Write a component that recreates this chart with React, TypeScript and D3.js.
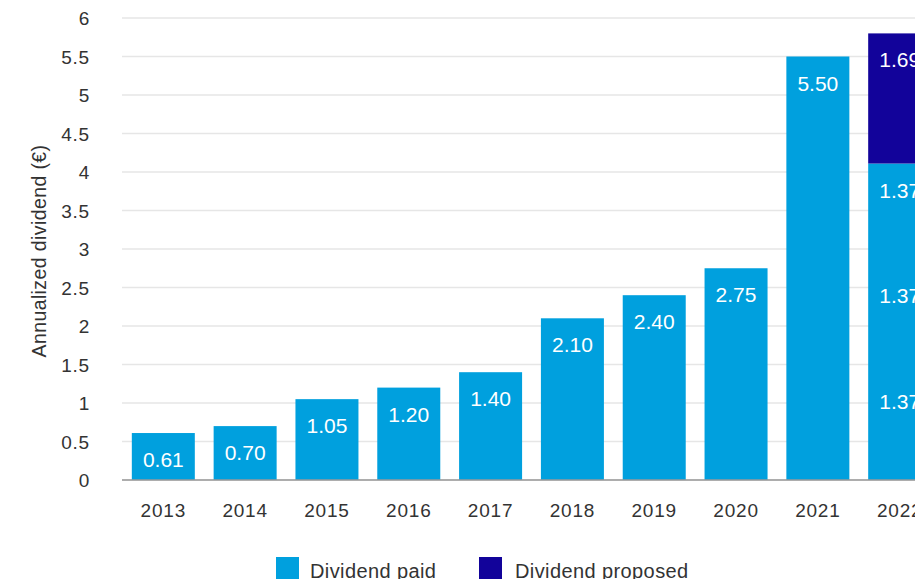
import React, { useEffect } from 'react';
import * as d3 from 'd3';

// data
const years = ['2013', '2014', '2015', '2016', '2017', '2018', '2019', '2020', '2021', '2022'];
// paid dividend, split into the pieces shown in the bar (2022 = three interim payments)
const paidParts: number[][] = [
  [0.61], [0.70], [1.05], [1.20], [1.40], [2.10], [2.40], [2.75], [5.50], [1.37, 1.37, 1.37],
];
const proposed = [0, 0, 0, 0, 0, 0, 0, 0, 0, 1.69];
const yTicks = [0, 0.5, 1, 1.5, 2, 2.5, 3, 3.5, 4, 4.5, 5, 5.5, 6];

const PAID = '#00a0de';
const PROPOSED = '#12039a';
const FONT = '"Liberation Sans", Arial, sans-serif';

const W = 915;
const H = 579;

export default function App() {
  useEffect(() => {
    document.body.style.margin = '0';
  }, []);

  const x = d3.scaleBand<string>()
    .domain(years)
    .range([122, 941])
    .paddingInner(0.23)
    .paddingOuter(0.12);

  const y = d3.scaleLinear().domain([0, 6]).range([480, 18]);

  // label pieces: each paid part and the proposed part
  const labels: { year: string; top: number; v: number }[] = [];
  years.forEach((yr, i) => {
    let base = 0;
    paidParts[i].forEach((v) => {
      base += v;
      labels.push({ year: yr, top: base, v });
    });
    if (proposed[i] > 0) labels.push({ year: yr, top: base + proposed[i], v: proposed[i] });
  });

  return (
    <svg width={W} height={H} style={{ display: 'block' }} fontFamily={FONT}>
      <rect width={W} height={H} fill="#fff" />
      {/* gridlines */}
      {yTicks.map((t) => (
        <line key={'g' + t} x1={122} x2={W} y1={y(t)} y2={y(t)} stroke="#e6e6e6" strokeWidth={1.5} />
      ))}
      {/* y tick labels */}
      {yTicks.map((t) => (
        <text key={'t' + t} x={90} y={y(t) + 7} textAnchor="end" fontSize={19} letterSpacing={0.8} fill="#333">
          {String(t)}
        </text>
      ))}
      <text
        transform={`translate(46, 251) rotate(-90)`}
        textAnchor="middle"
        fontSize={19.5}
        letterSpacing={0.4}
        fill="#333"
      >
        Annualized dividend (€)
      </text>

      {/* bars */}
      {years.map((yr, i) => {
        const paid = d3.sum(paidParts[i]);
        return (
          <g key={'b' + yr}>
            <rect x={x(yr)!} y={y(paid)} width={x.bandwidth()} height={y(0) - y(paid)} fill={PAID} />
            {proposed[i] > 0 && (
              <rect
                x={x(yr)!}
                y={y(paid + proposed[i])}
                width={x.bandwidth()}
                height={y(paid) - y(paid + proposed[i])}
                fill={PROPOSED}
              />
            )}
          </g>
        );
      })}
      {labels.map((l, i) => (
        <text
          key={'l' + i}
          x={x(l.year)! + x.bandwidth() / 2}
          y={y(l.top) + 34}
          textAnchor="middle"
          fontSize={21}
          fill="#fff"
        >
          {l.v.toFixed(2)}
        </text>
      ))}

      {/* baseline */}
      <line x1={122} x2={W} y1={y(0)} y2={y(0)} stroke="#999" strokeWidth={1.5} />

      {/* x labels */}
      {years.map((yr) => (
        <text
          key={'x' + yr}
          x={x(yr)! + x.bandwidth() / 2}
          y={517}
          textAnchor="middle"
          fontSize={19}
          letterSpacing={0.8}
          fill="#333"
        >
          {yr}
        </text>
      ))}

      {/* legend */}
      <rect x={276} y={557} width={23} height={23} fill={PAID} />
      <text x={310} y={578} fontSize={20} letterSpacing={0.4} fill="#333">Dividend paid</text>
      <rect x={479} y={557} width={23} height={23} fill={PROPOSED} />
      <text x={515} y={578} fontSize={20} letterSpacing={0.4} fill="#333">Dividend proposed</text>
    </svg>
  );
}
